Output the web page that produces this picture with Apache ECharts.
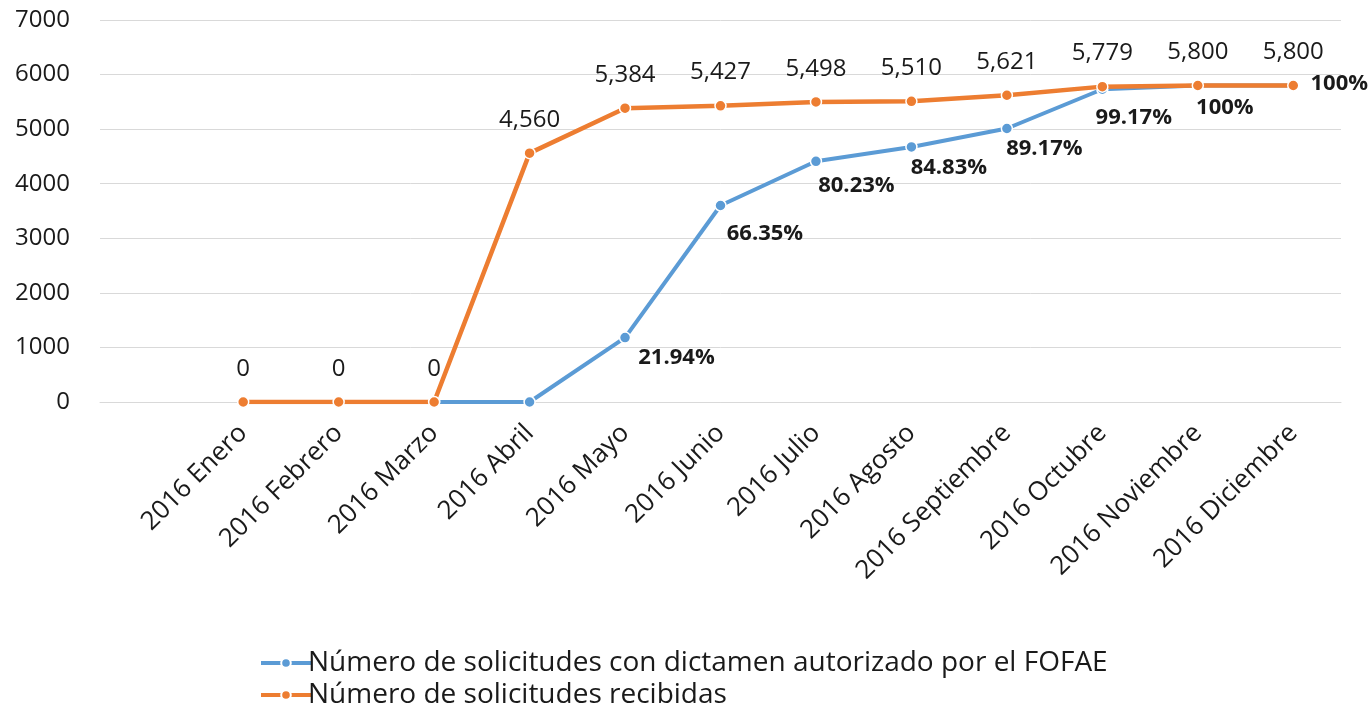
<!DOCTYPE html>
<html>
<head>
<meta charset="utf-8">
<script src="https://cdn.jsdelivr.net/npm/echarts@6/dist/echarts.min.js"></script>
<style>
html,body{margin:0;padding:0;background:#fff;}
#chart{width:1369px;height:711px;}
</style>
</head>
<body>
<div id="chart"></div>
<script>
const categories = ['', '2016 Enero', '2016 Febrero', '2016 Marzo', '2016 Abril', '2016 Mayo', '2016 Junio', '2016 Julio', '2016 Agosto', '2016 Septiembre', '2016 Octubre', '2016 Noviembre', '2016 Diciembre'];
const autorizadas = [null, 0, 0, 0, 0, 1181, 3601, 4411, 4674, 5012, 5731, 5800, 5800];
const recibidas = [null, 0, 0, 0, 4560, 5384, 5427, 5498, 5510, 5621, 5779, 5800, 5800];
const porcentajes = ['', '', '', '', '', '21.94%', '66.35%', '80.23%', '84.83%', '89.17%', '99.17%', '100%', '100%'];
const yTicks = [0, 1000, 2000, 3000, 4000, 5000, 6000, 7000];
const seriesNames = ['Número de solicitudes con dictamen autorizado por el FOFAE', 'Número de solicitudes recibidas'];

// label placement tweaks (layout only)
const pctOffsets = [null, null, null, null, null, [7, 20], [0, 28], [-4, 24], [-7, 21], [-7, 20], [-13, 28], [-8, 22], [11, -2]];

const FONT = '"Open Sans", sans-serif';
const TXT = '#1a1a1a';
const BLUE = '#5B9BD5';
const ORANGE = '#ED7D31';

const blueData = autorizadas.map((v, i) => {
  const item = { value: v };
  if (porcentajes[i] && pctOffsets[i]) {
    item.label = { show: true, offset: pctOffsets[i] };
  }
  return item;
});

function legendFor(name, top) {
  return {
    orient: 'vertical',
    left: 254,
    top: top,
    itemWidth: 50,
    itemHeight: 12,
    itemGap: 0,
    lineStyle: { width: 4 },
    textStyle: { fontSize: 28, color: TXT, fontFamily: FONT, lineHeight: 32, padding: [0, 0, 0, -8] },
    data: [name]
  };
}

const chart = echarts.init(document.getElementById('chart'));
chart.setOption({
  animation: false,
  backgroundColor: '#fff',
  grid: { left: 100, right: 28, top: 20, bottom: 309, containLabel: false },
  xAxis: {
    type: 'category',
    data: categories,
    boundaryGap: true,
    axisLine: { show: true, lineStyle: { color: '#d9d9d9', width: 1 } },
    axisTick: { show: false },
    axisLabel: { rotate: 45, margin: 27, fontSize: 26, color: TXT, fontFamily: FONT, interval: 0 },
    splitLine: { show: false }
  },
  yAxis: {
    type: 'value',
    min: yTicks[0],
    max: yTicks[yTicks.length - 1],
    interval: 1000,
    axisLine: { show: false },
    axisTick: { show: false },
    axisLabel: { fontSize: 24, color: TXT, fontFamily: FONT, margin: 30, formatter: v => String(v) },
    splitLine: { lineStyle: { color: '#d9d9d9', width: 1 } }
  },
  legend: [legendFor(seriesNames[0], 642), legendFor(seriesNames[1], 674)],
  series: [
    {
      name: seriesNames[0],
      type: 'line',
      data: blueData,
      color: BLUE,
      lineStyle: { width: 4, color: BLUE },
      symbol: 'circle',
      symbolSize: 11,
      itemStyle: { color: BLUE, borderColor: '#fff', borderWidth: 1.5 },
      label: {
        show: false,
        position: 'right',
        distance: 0,
        fontSize: 22,
        fontWeight: 'bold',
        color: TXT,
        fontFamily: FONT,
        formatter: p => porcentajes[p.dataIndex]
      },
      z: 2
    },
    {
      name: seriesNames[1],
      type: 'line',
      data: recibidas,
      color: ORANGE,
      lineStyle: { width: 4.5, color: ORANGE },
      symbol: 'circle',
      symbolSize: 11,
      itemStyle: { color: ORANGE, borderColor: '#fff', borderWidth: 1.5 },
      label: {
        show: true,
        position: 'top',
        distance: 15,
        fontSize: 24,
        color: TXT,
        fontFamily: FONT,
        formatter: p => (p.value == null ? '' : Number(p.value).toLocaleString('en-US'))
      },
      z: 3
    }
  ]
});
</script>
</body>
</html>
